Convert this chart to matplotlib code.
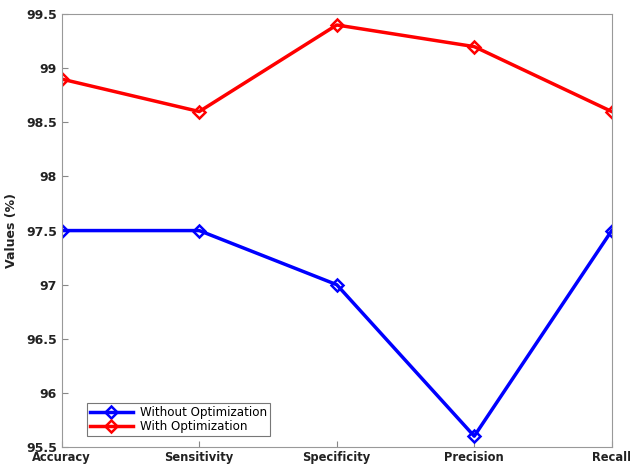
import matplotlib
matplotlib.use("Agg")
import matplotlib.pyplot as plt

metrics = ["Accuracy", "Sensitivity", "Specificity", "Precision", "Recall"]
without_opt = [97.5, 97.5, 97.0, 95.6, 97.5]
with_opt = [98.9, 98.6, 99.4, 99.2, 98.6]

fig = plt.figure(figsize=(6.3, 4.72), dpi=100)
ax = fig.add_axes([0.098, 0.053, 0.873, 0.917])

x = range(len(metrics))
ax.plot(x, without_opt, color="blue", lw=2.5, marker="D", ms=6, mfc="none",
        mew=1.8, label="Without Optimization")
ax.plot(x, with_opt, color="red", lw=2.5, marker="D", ms=6, mfc="none",
        mew=1.8, label="With Optimization")

ax.set_xlim(0, len(metrics) - 1)
ax.set_ylim(95.5, 99.5)
ax.set_xticks(list(x))
ax.set_xticklabels(metrics, fontweight="bold", fontsize=8.3)
yt = [95.5 + 0.5 * i for i in range(9)]
ax.set_yticks(yt)
ax.set_yticklabels([f"{v:g}" for v in yt], fontweight="bold", fontsize=9)
ax.tick_params(direction="in", length=4, color="#888888", labelcolor="#222222")
ax.tick_params(axis="x", pad=3)
for s in ax.spines.values():
    s.set_color("#999999")
ax.set_ylabel("Values (%)", fontweight="bold", fontsize=9, labelpad=6,
              color="#222222")

leg = ax.legend(loc="lower left", fontsize=8.6, fancybox=False, framealpha=1,
                edgecolor="#777777", handlelength=3.6, borderpad=0.25,
                labelspacing=0.05, handletextpad=0.6,
                bbox_to_anchor=(0.035, 0.012))
leg.get_frame().set_linewidth(0.8)

fig.savefig("out.png", dpi=100)
